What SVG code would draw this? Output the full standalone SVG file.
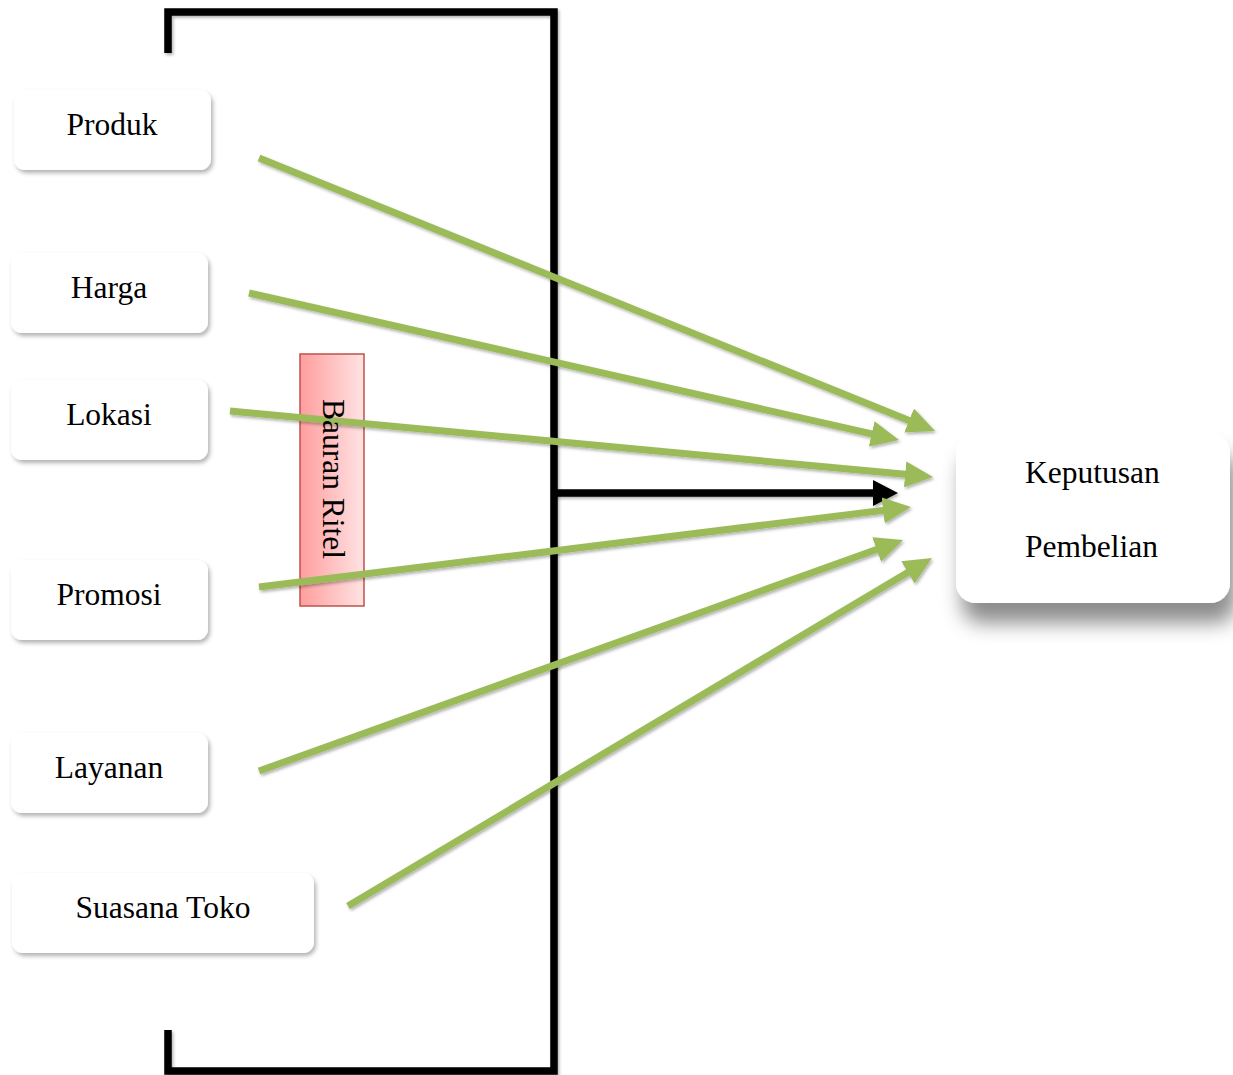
<svg xmlns="http://www.w3.org/2000/svg" width="1233" height="1075" viewBox="0 0 1233 1075">
<style>
  .box { fill: #ffffff; filter: url(#sh); }
  .lbl { font-family: "Liberation Serif", "Times New Roman", serif; font-size: 31.5px; fill: #000000; }
  .green { stroke: #9BBB59; stroke-width: 7; fill: none; marker-end: url(#ga); filter: url(#lsh); }
  .black { stroke: #000000; stroke-width: 7.5; fill: none; }
</style>
<defs>
  <filter id="sh" x="-20%" y="-20%" width="140%" height="160%">
    <feDropShadow dx="2" dy="3" stdDeviation="2" flood-color="#000" flood-opacity="0.3"/>
  </filter>
  <filter id="bigsh" x="-20%" y="-20%" width="150%" height="180%">
    <feDropShadow dx="6" dy="20" stdDeviation="10" flood-color="#000" flood-opacity="0.45"/>
  </filter>
  <filter id="lsh" x="-10%" y="-50%" width="120%" height="200%">
    <feDropShadow dx="1.5" dy="2" stdDeviation="1.5" flood-color="#000" flood-opacity="0.3"/>
  </filter>
  <filter id="hsh" filterUnits="userSpaceOnUse" x="540" y="470" width="380" height="50">
    <feDropShadow dx="1.5" dy="2" stdDeviation="1.5" flood-color="#000" flood-opacity="0.3"/>
  </filter>
  <linearGradient id="pink" x1="0" y1="0" x2="1" y2="0">
    <stop offset="0" stop-color="#FF9E9E"/>
    <stop offset="1" stop-color="#FFE3E3"/>
  </linearGradient>
  <marker id="ga" viewBox="0 0 28 26" refX="8" refY="13" markerWidth="28" markerHeight="26" markerUnits="userSpaceOnUse" orient="auto">
    <path d="M0,0 L28,13 L0,26 z" fill="#9BBB59"/>
  </marker>
  <marker id="ba" viewBox="0 0 25 26" refX="2" refY="13" markerWidth="25" markerHeight="26" markerUnits="userSpaceOnUse" orient="auto">
    <path d="M0,0 L25,13 L0,26 z" fill="#000000"/>
  </marker>
</defs>
<rect width="1233" height="1075" fill="#ffffff"/>

<g id="bracket" filter="url(#lsh)">
  <path class="black" d="M168,53 L168,12 L554,12 L554,1071 L168,1071 L168,1030"/>
</g>

<g id="bauran">
  <rect x="300" y="354" width="64" height="252" fill="url(#pink)" stroke="#C0504D" stroke-width="1.5"/>
</g>

<g id="connectors">
  <g filter="url(#hsh)">
    <line class="black" x1="554" y1="493" x2="875" y2="493" marker-end="url(#ba)"/>
  </g>
  <line class="green" x1="259" y1="158" x2="916.5" y2="423.5"/>
  <line class="green" x1="249" y1="293" x2="879.5" y2="435.6"/>
  <line class="green" x1="230" y1="411" x2="913.1" y2="475.1"/>
  <line class="green" x1="259" y1="587" x2="891.1" y2="509.4"/>
  <line class="green" x1="259" y1="771" x2="884.2" y2="546.8"/>
  <line class="green" x1="348" y1="906" x2="914.8" y2="568.2"/>
</g>

<g id="bauran-label">
  <text class="lbl" transform="translate(323,479) rotate(90)" text-anchor="middle">Bauran Ritel</text>
</g>

<g id="produk">
  <rect class="box" x="14" y="90" width="197" height="80" rx="11"/>
  <text class="lbl" x="112" y="135" text-anchor="middle">Produk</text>
</g>
<g id="harga">
  <rect class="box" x="11" y="253" width="197" height="80" rx="11"/>
  <text class="lbl" x="109" y="298" text-anchor="middle">Harga</text>
</g>
<g id="lokasi">
  <rect class="box" x="11" y="380" width="197" height="80" rx="11"/>
  <text class="lbl" x="109" y="425" text-anchor="middle">Lokasi</text>
</g>
<g id="promosi">
  <rect class="box" x="11" y="560" width="197" height="80" rx="11"/>
  <text class="lbl" x="109" y="605" text-anchor="middle">Promosi</text>
</g>
<g id="layanan">
  <rect class="box" x="11" y="733" width="197" height="80" rx="11"/>
  <text class="lbl" x="109" y="778" text-anchor="middle">Layanan</text>
</g>
<g id="suasana">
  <rect class="box" x="12" y="873" width="302" height="80" rx="11"/>
  <text class="lbl" x="163" y="918" text-anchor="middle">Suasana Toko</text>
</g>
<g id="keputusan">
  <rect x="956" y="433" width="274" height="170" rx="20" fill="#ffffff" filter="url(#bigsh)"/>
  <text class="lbl" x="1025" y="483">Keputusan</text>
  <text class="lbl" x="1025" y="557">Pembelian</text>
</g>
</svg>
